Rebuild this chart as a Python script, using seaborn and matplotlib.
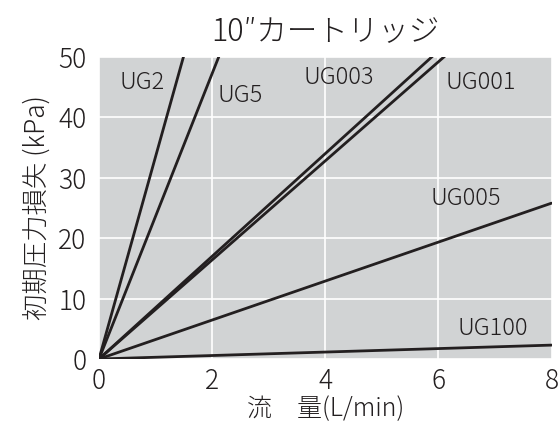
import numpy as np
import pandas as pd
import matplotlib
matplotlib.use("Agg")
import matplotlib.pyplot as plt
import seaborn as sns

# flow (L/min) and initial pressure loss (kPa) at the end points of each line
flow = [0, 8]
ug2 = [0, 268]
ug5 = [0, 189]
ug003 = [0, 68]
ug001 = [0, 65.6]
ug005 = [0, 25.8]
ug100 = [0, 2.3]

names = ["UG2", "UG5", "UG003", "UG001", "UG005", "UG100"]
series = [ug2, ug5, ug003, ug001, ug005, ug100]

# label centres in data units
label_x = [0.77, 2.5, 4.24, 6.75, 6.48, 6.96]
label_y = [45.8, 43.6, 46.6, 45.8, 26.6, 5.0]

rows = []
for n, s in zip(names, series):
    for f, v in zip(flow, s):
        rows.append({"flow": f, "dp": v, "grade": n})
df = pd.DataFrame(rows)

sns.set_style("white")
plt.rcParams["font.family"] = ["Noto Sans CJK JP", "DejaVu Sans"]
ink = "#231f20"

fig = plt.figure(figsize=(5.58, 4.23), dpi=100)
ax = fig.add_axes([0.1774, 0.1513, 0.811, 0.714])
ax.set_facecolor("#d1d3d4")

sns.lineplot(data=df, x="flow", y="dp", units="grade", estimator=None,
             color=ink, linewidth=2.0, ax=ax)

for n, x, y in zip(names, label_x, label_y):
    ax.text(x, y, n, fontsize=17, color=ink, ha="center", va="center",
            fontweight="light")

ax.set_xlim(0, 8)
ax.set_ylim(0, 50)
ax.set_xticks([0, 2, 4, 6, 8])
ax.set_yticks([0, 10, 20, 30, 40, 50])
ax.grid(True, color="white", linewidth=1.2)
ax.set_axisbelow(True)
for sp in ax.spines.values():
    sp.set_visible(False)
ax.tick_params(axis="both", length=0, labelsize=19, colors=ink)
ax.tick_params(axis="x", pad=6)
ax.tick_params(axis="y", pad=9)
for t in ax.get_xticklabels() + ax.get_yticklabels():
    t.set_fontweight("light")

ax.set_xlabel("流　量(L/min)", fontsize=18, color=ink, labelpad=0,
              fontweight="light")
ax.set_ylabel("初期圧力損失 (kPa)", fontsize=19, color=ink, labelpad=5,
              fontweight="light")
ax.set_title("10″カートリッジ", fontsize=22, color=ink, pad=12,
             fontweight="light")

fig.savefig("out.png", dpi=100, facecolor="white")
